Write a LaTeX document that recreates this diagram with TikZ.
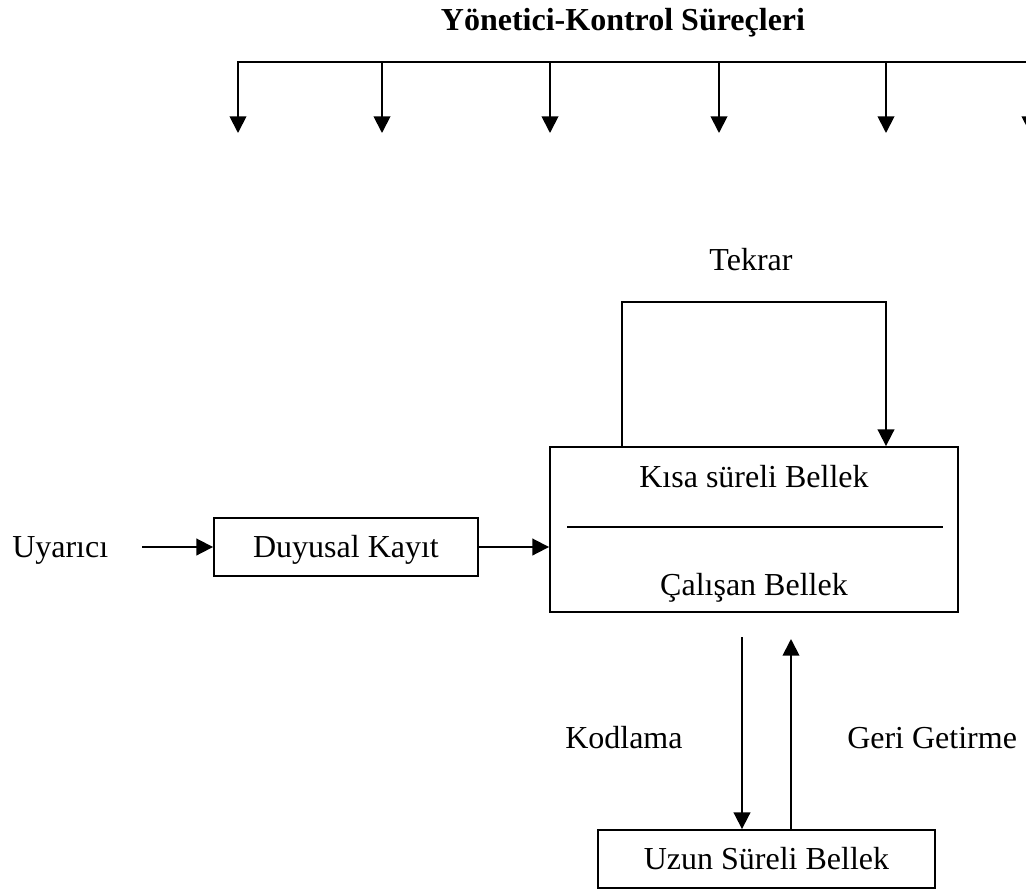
\documentclass[tikz,border=0pt]{standalone}
\usepackage{fontspec}
\setmainfont{Liberation Serif}
\usetikzlibrary{arrows.meta}
\begin{document}
\begin{tikzpicture}[x=0.75pt,y=-0.75pt,
  every node/.style={font=\fontsize{24}{28}\selectfont, inner sep=0pt},
  box/.style={draw, line width=1.4pt, text height=15.8pt, text depth=0pt},
  arr/.style={line width=1.4pt, -{Triangle[length=12.5pt,width=12.5pt]}},
  ln/.style={line width=1.4pt},
  lbl/.style={anchor=base}]
\useasboundingbox (0,0) rectangle (1026,890);
\clip (0,0) rectangle (1026,890);

% title
\node[lbl, font=\fontsize{24}{28}\selectfont\bfseries] (title) at (623,30) {Yönetici-Kontrol Süreçleri};

% top distribution bar
\coordinate (t1) at (238,62);  \coordinate (e1) at (238,133);
\coordinate (t2) at (382,62);  \coordinate (e2) at (382,133);
\coordinate (t3) at (550,62);  \coordinate (e3) at (550,133);
\coordinate (t4) at (719,62);  \coordinate (e4) at (719,133);
\coordinate (t5) at (886,62);  \coordinate (e5) at (886,133);
\coordinate (t6) at (1030,62); \coordinate (e6) at (1030,133);
\coordinate (tend) at (1040,62);
\draw[arr] (tend) -- (t1) -- (e1);
\draw[arr] (t2) -- (e2);
\draw[arr] (t3) -- (e3);
\draw[arr] (t4) -- (e4);
\draw[arr] (t5) -- (e5);
\draw[arr] (t6) -- (e6);

% nodes
\node[anchor=base west] (uy) at (12,557) {Uyarıcı};
\node[box, minimum width=198pt, minimum height=43.5pt] (dk) at (346,547) {Duyusal Kayıt};
\node[draw, line width=1.4pt, minimum width=306pt, minimum height=123.75pt] (stm) at (754,529.5) {};
\node[lbl] (kisa) at (754,487) {Kısa süreli Bellek};
\node[lbl] (cal) at (754,595) {Çalışan Bellek};
\coordinate (dl) at (567,527); \coordinate (dr) at (943,527);
\draw[line width=1.8pt] (dl) -- (dr);
\node[box, minimum width=252.75pt, minimum height=43.5pt] (lts) at (766.5,859) {Uzun Süreli Bellek};

% labels
\node[lbl] (tekrar) at (751,270) {Tekrar};
\node[anchor=base west] (kod) at (565,748) {Kodlama};
\node[anchor=base west] (geri) at (847,748) {Geri Getirme};

% connectors
\coordinate (ua) at (142,547);
\draw[arr] (ua) -- (dk.west);
\draw[arr] (dk.east) -- (dk.east -| stm.west);
\coordinate (lpL) at (622,302); \coordinate (lpR) at (886,302);
\draw[arr] (stm.north -| lpL) -- (lpL) -- (lpR) -- (stm.north -| lpR);
\coordinate (kd) at (742,637); \coordinate (gu) at (791,639);
\draw[arr] (kd) -- (kd |- lts.north);
\draw[arr] (gu |- lts.north) -- (gu);
\end{tikzpicture}
\end{document}
